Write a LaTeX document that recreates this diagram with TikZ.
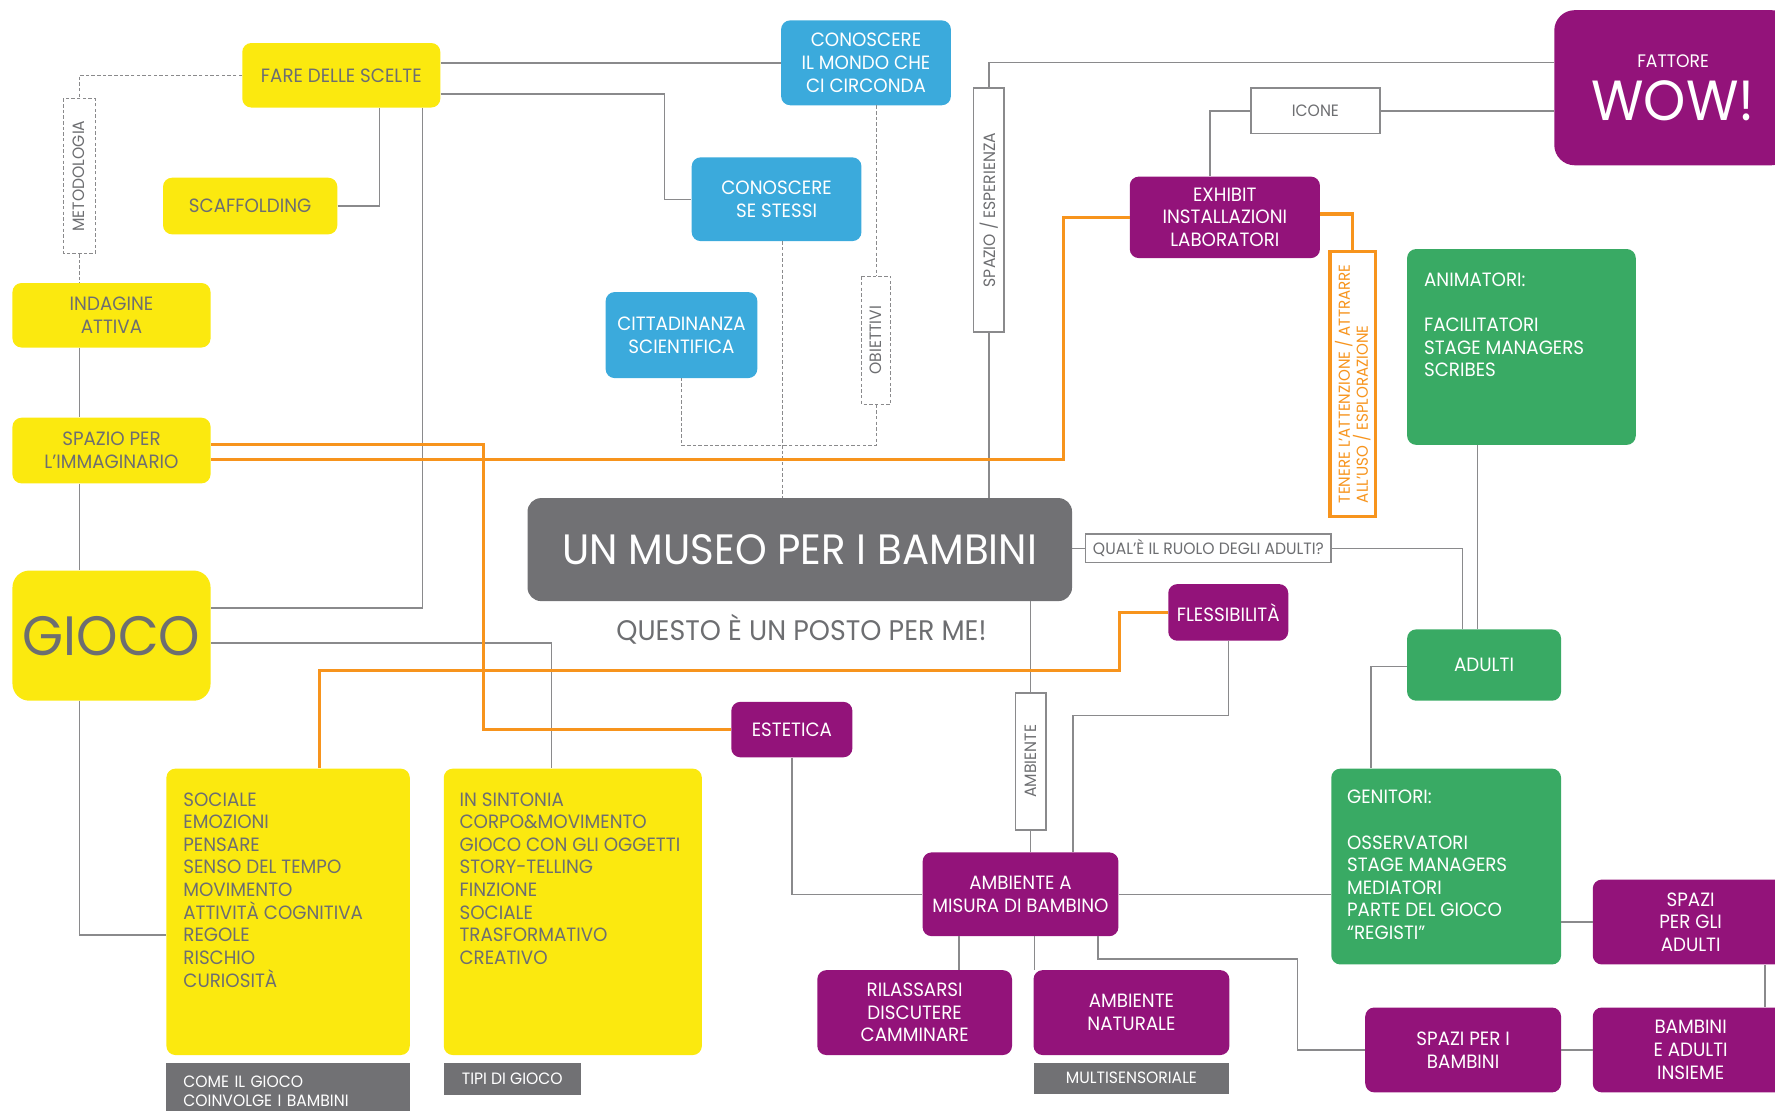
\documentclass[tikz,border=0pt]{standalone}
\usepackage{fontspec}
\setmainfont{Poppins}[FakeStretch=0.95]
\usepackage{tikz}
\definecolor{mpyellow}{HTML}{FBE90F}
\definecolor{mpblue}{HTML}{3BAADC}
\definecolor{mppurple}{HTML}{93137A}
\definecolor{mpgreen}{HTML}{39AA64}
\definecolor{mpdark}{HTML}{717174}
\definecolor{mptext}{HTML}{6D6E71}
\definecolor{mporange}{HTML}{F7941D}
\definecolor{mpline}{HTML}{8A8A8C}

\begin{document}
\begin{tikzpicture}[x=1pt, y=-1pt,
  every node/.style={inner sep=2pt, align=center, font=\fontsize{17}{20}\selectfont},
  ybox/.style={fill=mpyellow, text=mptext, rounded corners=8pt},
  bbox/.style={fill=mpblue, text=white, rounded corners=8pt},
  pbox/.style={fill=mppurple, text=white, rounded corners=8pt},
  gbox/.style={fill=mpgreen, text=white, rounded corners=8pt},
  outbox/.style={draw=mpline, line width=1.5pt, fill=white, text=mptext, font=\fontsize{14.5}{16}\selectfont},
  dashbox/.style={outbox, line width=1pt, dash pattern=on 3pt off 2pt},
  greytag/.style={fill=mpdark, text=white, font=\fontsize{14.5}{17}\selectfont},
  toptext/.style={anchor=north west, align=left, inner sep=0pt},
  wire/.style={draw=mpline, line width=1.2pt},
  dwire/.style={wire, line width=1pt, dash pattern=on 3pt off 2pt},
  owire/.style={draw=mporange, line width=2.8pt}]
  \useasboundingbox (0,0) rectangle (1568,981);

  \node[ybox, minimum width=175pt, minimum height=57pt] (fare) at (301.5,66.5) {FARE DELLE SCELTE};
  \node[ybox, minimum width=154pt, minimum height=50pt] (scaff) at (221,182) {SCAFFOLDING};
  \node[dashbox, rotate=90, minimum width=137pt, minimum height=28pt] (metod) at (70,155.5) {METODOLOGIA};
  \node[ybox, minimum width=175pt, minimum height=57pt] (indag) at (98.5,278.5) {INDAGINE\\ATTIVA};
  \node[ybox, minimum width=175pt, minimum height=58pt] (immag) at (98.5,398) {SPAZIO PER\\L'IMMAGINARIO};
  \node[ybox, rounded corners=15pt, minimum width=175pt, minimum height=115pt, font=\fontsize{49}{50}\selectfont] (gioco) at (98.5,561.5) {GIOCO};

  \node[bbox, minimum width=150pt, minimum height=75pt] (mondo) at (765,55.5) {CONOSCERE\\IL MONDO CHE\\CI CIRCONDA};
  \node[bbox, minimum width=150pt, minimum height=74pt] (stessi) at (686,176) {CONOSCERE\\SE STESSI};
  \node[bbox, minimum width=134pt, minimum height=76pt] (citt) at (602,296) {CITTADINANZA\\SCIENTIFICA};
  \node[dashbox, rotate=90, minimum width=113pt, minimum height=26pt] (obiet) at (774,300.5) {OBIETTIVI};
  \node[outbox, rotate=90, minimum width=215pt, minimum height=27pt] (spazesp) at (873.5,185.5) {SPAZIO / ESPERIENZA};

  \node[fill=mpdark, text=white, rounded corners=12pt, minimum width=481pt, minimum height=91pt, font=\fontsize{37.5}{40}\selectfont] (museo) at (706.5,485.5) {UN MUSEO PER I BAMBINI};
  \node[text=mptext, font=\fontsize{25}{28}\selectfont] (posto) at (708,556) {QUESTO È UN POSTO PER ME!};
  \node[outbox, minimum width=217pt, minimum height=25pt] (ruolo) at (1067.5,484.5) {QUAL'È IL RUOLO DEGLI ADULTI?};

  \node[pbox, rounded corners=18pt, minimum width=210pt, minimum height=137pt] (wow) at (1478,77.5) {{\fontsize{16}{20}\selectfont FATTORE}\\[10pt]{\fontsize{50}{50}\selectfont WOW!}};
  \node[outbox, minimum width=114pt, minimum height=40pt] (icone) at (1162,98) {ICONE};
  \node[pbox, minimum width=168pt, minimum height=72pt] (exhibit) at (1082,192) {EXHIBIT\\INSTALLAZIONI\\LABORATORI};
  \node[outbox, draw=mporange, line width=3pt, text=mporange, rotate=90, align=left, minimum width=234pt, minimum height=40pt, font=\fontsize{14}{16}\selectfont] (tenere) at (1195,339) {TENERE L'ATTENZIONE / ATTRARRE\\ALL'USO / ESPLORAZIONE};
  \node[gbox, minimum width=202pt, minimum height=173pt, label={[toptext, text=white, xshift=15pt, yshift=-21pt]north west:ANIMATORI:\\[20pt]FACILITATORI\\STAGE MANAGERS\\SCRIBES}] (anim) at (1344,306.5) {};
  \node[gbox, minimum width=136pt, minimum height=63pt] (adulti) at (1311,587.5) {ADULTI};
  \node[gbox, minimum width=203pt, minimum height=173pt, label={[toptext, text=white, xshift=14pt, yshift=-19pt]north west:GENITORI:\\[20pt]OSSERVATORI\\STAGE MANAGERS\\MEDIATORI\\PARTE DEL GIOCO\\``REGISTI''}] (genit) at (1277.5,765.5) {};

  \node[pbox, minimum width=106pt, minimum height=50pt] (fless) at (1085,541) {FLESSIBILITÀ};
  \node[pbox, minimum width=107pt, minimum height=49pt] (estet) at (699.5,644.5) {ESTETICA};
  \node[outbox, rotate=90, minimum width=121pt, minimum height=27pt] (amb) at (910.5,672.5) {AMBIENTE};
  \node[pbox, minimum width=173pt, minimum height=74pt] (misura) at (901.5,790) {AMBIENTE A\\MISURA DI BAMBINO};
  \node[pbox, minimum width=172pt, minimum height=75pt] (rilass) at (808,894.5) {RILASSARSI\\DISCUTERE\\CAMMINARE};
  \node[pbox, minimum width=173pt, minimum height=75pt] (natur) at (999.5,894.5) {AMBIENTE\\NATURALE};
  \node[greytag, minimum width=173pt, minimum height=27pt] (multis) at (999.5,952.5) {MULTISENSORIALE};
  \node[pbox, minimum width=173pt, minimum height=75pt] (spadul) at (1493.5,814.5) {SPAZI\\PER GLI\\ADULTI};
  \node[pbox, minimum width=173pt, minimum height=75pt] (spabam) at (1292.5,927.5) {SPAZI PER I\\BAMBINI};
  \node[pbox, minimum width=173pt, minimum height=75pt] (insieme) at (1493.5,927.5) {BAMBINI\\E ADULTI\\INSIEME};

  \node[ybox, minimum width=215pt, minimum height=253pt, label={[toptext, text=mptext, xshift=15pt, yshift=-21pt]north west:SOCIALE\\EMOZIONI\\PENSARE\\SENSO DEL TEMPO\\MOVIMENTO\\ATTIVITÀ COGNITIVA\\REGOLE\\RISCHIO\\CURIOSITÀ}] (soc) at (254.5,805.5) {};
  \node[greytag, align=left, text width=185pt, inner xsep=15pt, minimum height=50pt] (come) at (254.5,964) {COME IL GIOCO\\COINVOLGE I BAMBINI};
  \node[ybox, minimum width=228pt, minimum height=253pt, label={[toptext, text=mptext, xshift=14pt, yshift=-21pt]north west:IN SINTONIA\\CORPO\&MOVIMENTO\\GIOCO CON GLI OGGETTI\\STORY-TELLING\\FINZIONE\\SOCIALE\\TRASFORMATIVO\\CREATIVO}] (sint) at (506,805.5) {};
  \node[greytag, minimum width=121pt, minimum height=28pt] (tipi) at (452.5,953) {TIPI DI GIOCO};

  \draw[wire] (fare.east |- mondo.west) -- (mondo.west);
  \draw[wire] ([yshift=-16.5pt]fare.east) -- ++(198,0) |- (stessi.west);
  \draw[wire] (scaff.east) -| ([xshift=33.5pt]fare.south);
  \draw[wire] ([xshift=71.5pt]fare.south) |- ([yshift=24.5pt]gioco.east);
  \draw[dwire] (fare.west) -| (metod.east);
  \draw[dwire] (metod.west) -- (metod.west |- indag.north);
  \draw[wire] (indag.south -| metod.west) -- (immag.north -| metod.west);
  \draw[wire] (immag.south -| metod.west) -- (gioco.north -| metod.west);
  \draw[wire] (gioco.south -| metod.west) |- ([yshift=-20.5pt]soc.west);
  \draw[wire] ([yshift=-6.5pt]gioco.east) -| ([xshift=-19pt]sint.north);
  \draw[dwire] (mondo.south -| obiet.east) -- (obiet.east);
  \draw[dwire] (obiet.west) -- ++(0,36) -| (citt.south);
  \draw[dwire] ([xshift=5pt]stessi.south) -- ([xshift=5pt]stessi.south |- museo.north);
  \draw[wire] (spazesp.west) -- (spazesp.west |- museo.north);
  \draw[wire] (spazesp.east) |- ([yshift=22.5pt]wow.west);
  \draw[wire] (icone.east) -- (icone.east -| wow.west);
  \draw[wire] (icone.west) -| ([xshift=-13pt]exhibit.north);
  \draw[wire] (museo.east |- ruolo.west) -- (ruolo.west);
  \draw[wire] (ruolo.east) -| ([xshift=-19pt]adulti.north);
  \draw[wire] ([xshift=-39pt]anim.south) -- ([xshift=-39pt]anim.south |- adulti.north);
  \draw[wire] ([yshift=-1.5pt]adulti.west) -| ([xshift=-66.5pt]genit.north);
  \draw[wire] (museo.south -| amb.east) -- (amb.east);
  \draw[wire] (amb.west) -- (amb.west |- misura.north);
  \draw[wire] (fless.south) -- ++(0,66) -| ([xshift=46.5pt]misura.north);
  \draw[wire] (estet.south) |- (misura.west);
  \draw[wire] (misura.east) -- (misura.east -| genit.west);
  \draw[wire] ([xshift=-54.5pt]misura.south) -- ([xshift=-54.5pt]misura.south |- rilass.north);
  \draw[wire] ([xshift=12.5pt]misura.south) -- ([xshift=12.5pt]misura.south |- natur.north);
  \draw[wire] ([xshift=68.5pt]misura.south) -- ++(0,20) -- ++(176,0) |- (spabam.west);
  \draw[wire] (spadul.west -| genit.east) -- (spadul.west);
  \draw[wire] (spabam.east) -- (insieme.west);
  \draw[wire] ([xshift=65.5pt]spadul.south) -- ([xshift=65.5pt]insieme.north);

  \draw[owire] ([yshift=5pt]immag.east) -- ++(241,0) |- (estet.west);
  \draw[owire] ([yshift=-8pt]immag.east) -- ++(753,0) |- (exhibit.west);
  \draw[owire] ([yshift=3pt]exhibit.east) -| (tenere.east);
  \draw[owire] (fless.west) -- ++(-43,0) -- ++(0,51) -| ([xshift=27.5pt]soc.north);
\end{tikzpicture}
\end{document}
